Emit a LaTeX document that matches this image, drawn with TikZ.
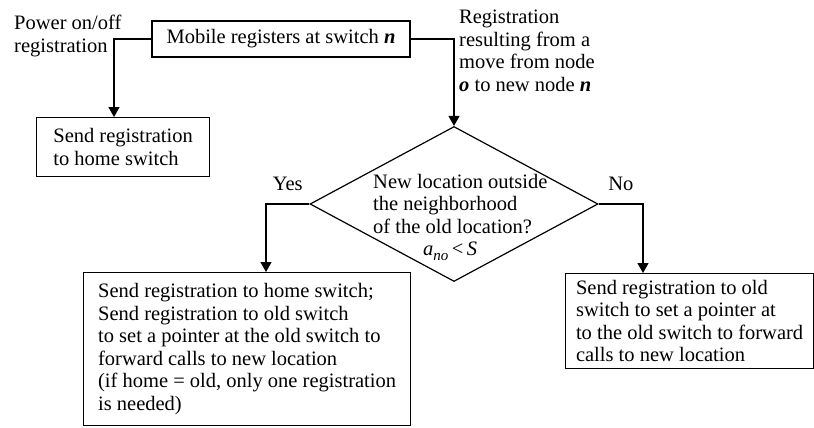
\documentclass[tikz,border=0pt]{standalone}
\usepackage{fontspec}
\setmainfont{Liberation Serif}
\usetikzlibrary{arrows.meta,shapes.geometric}
\begin{document}
\begin{tikzpicture}[x=1pt,y=-1pt,
  every node/.style={font=\fontsize{20.5}{22.5}\selectfont},
  box/.style={draw, line width=1.2pt, rectangle, inner sep=0pt, align=left},
  label/.style={inner sep=0pt, align=left},
  flow/.style={draw, line width=1.2pt, -{Triangle[length=10pt,width=11pt]}},
  answer/.style={inner sep=0pt, anchor=base, yshift=14pt},
  ]
\useasboundingbox (0,0) rectangle (814,428);

% boxes
\node[box, minimum width=258pt, minimum height=36pt] (reg) at (281,39)
  {Mobile registers at switch \textbf{\textit{n}}};
\node[box, anchor=north west, minimum width=173pt, minimum height=59pt] (home) at (36,117)
  {Send registration\\to home switch};
\node[diamond, draw, line width=1.2pt, inner sep=0pt,
      minimum width=288pt, minimum height=155pt] (test) at (454,204) {};
\node[box, anchor=north west, minimum width=327pt, minimum height=153pt] (fwd) at (83,272)
  {Send registration to home switch;\\
   Send registration to old switch\\
   to set a pointer at the old switch to\\
   forward calls to new location\\
   (if home = old, only one registration\\
   is needed)};
\node[box, anchor=north west, minimum width=248pt, minimum height=95pt] (ptr) at (565,273)
  {Send registration to old\\
   switch to set a pointer at\\
   to the old switch to forward\\
   calls to new location};

% texts
\node[label, anchor=north west] (q) at (373,174)
  {New location outside\\
   the neighborhood\\
   of the old location?\\
   \hspace*{50pt}\textit{a}\raisebox{-5pt}{\fontsize{15}{15}\selectfont\textit{no}}\,<\,\textit{S}};
\node[label, anchor=north west] (pw) at (14,15) {Power on/off\\registration};
\node[label, anchor=north west] (mv) at (459,10)
  {Registration\\resulting from a\\move from node\\\textbf{\textit{o}} to new node \textbf{\textit{n}}};

% bend columns of the connectors
\coordinate (cpw) at (114,0);
\coordinate (cyes) at (266,0);
\coordinate (cno) at (643,0);

% connectors
\draw[flow] (reg.west) -| (home.north -| cpw);
\draw[flow] (reg.east) -| (test.north);
\draw[flow] (test.west) -| node[answer, pos=0.25] (yes) {Yes} (fwd.north -| cyes);
\draw[flow] (test.east) -| node[answer, pos=0.25] (no) {No} (ptr.north -| cno);
\end{tikzpicture}
\end{document}
